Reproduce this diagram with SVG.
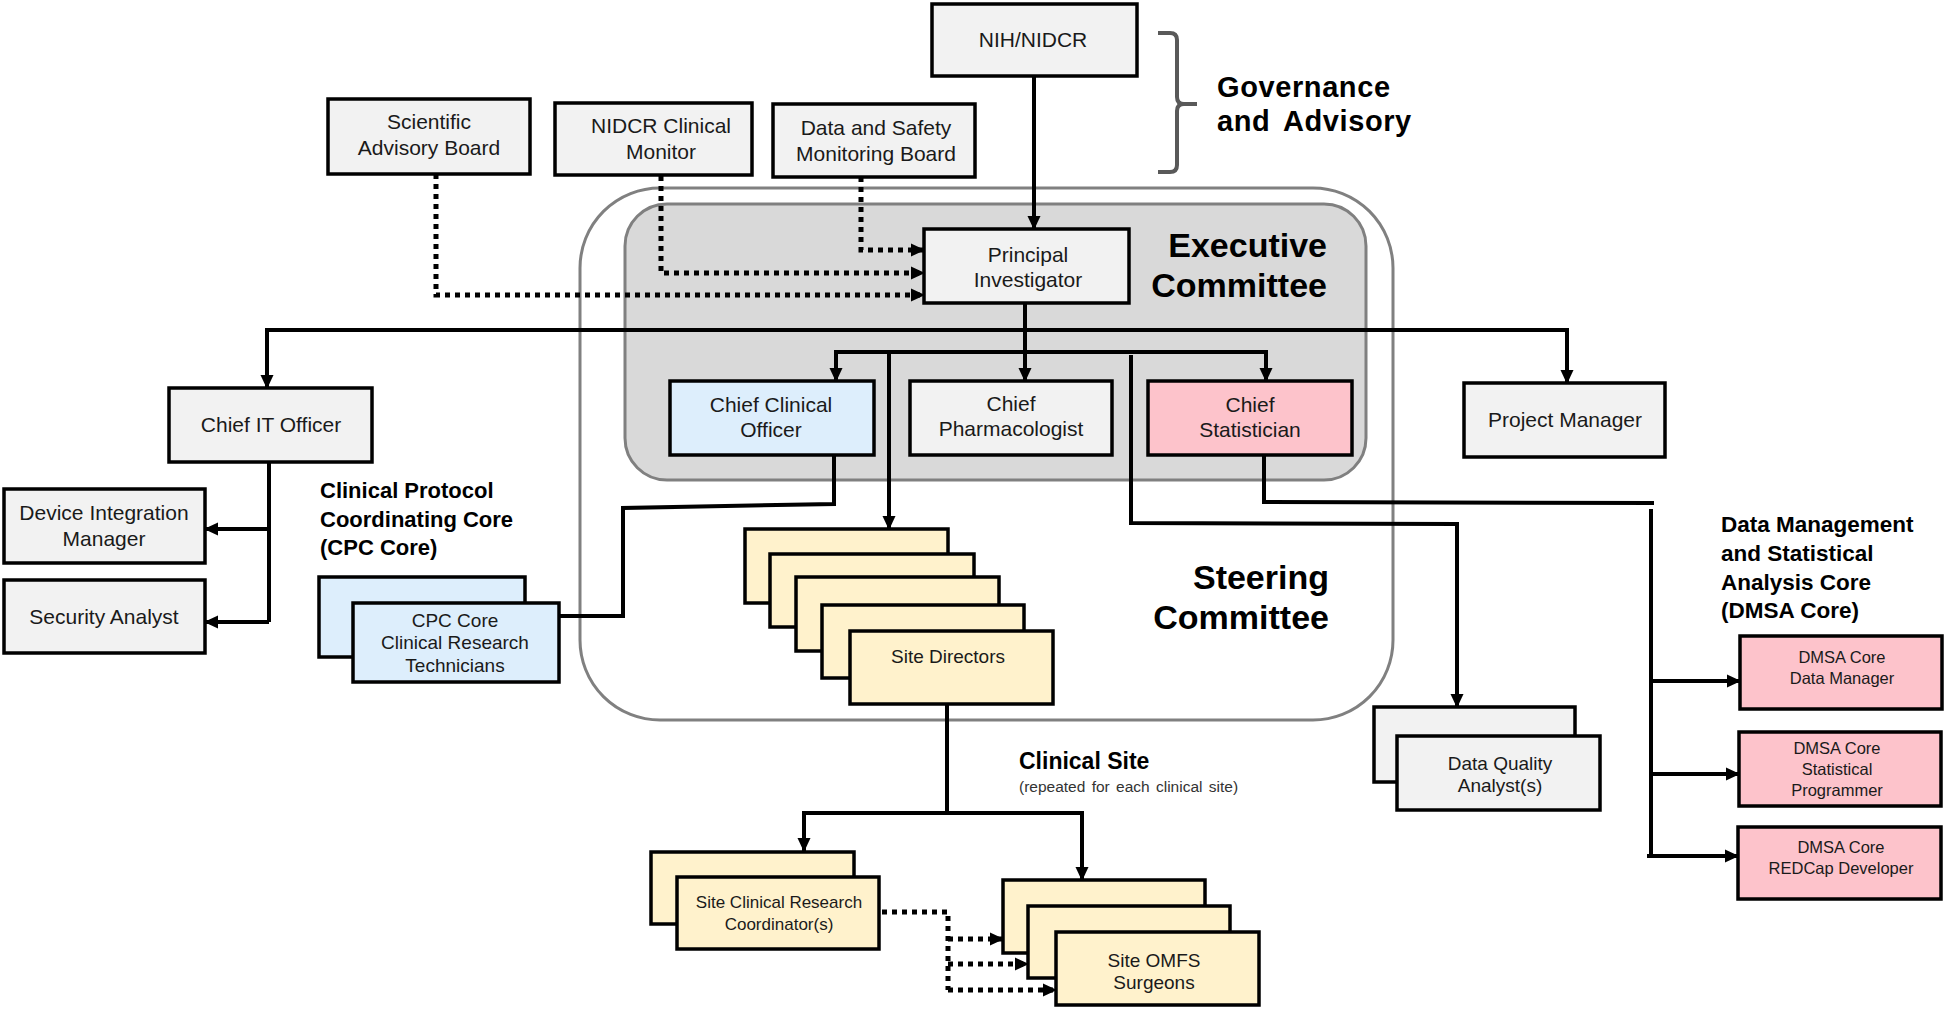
<svg xmlns="http://www.w3.org/2000/svg" width="1946" height="1010" viewBox="0 0 1946 1010">
<style>
.bx{stroke:#000;stroke-width:3.5}
.g{fill:#f2f2f2}.b{fill:#ddeefc}.p{fill:#fdc3cb}.y{fill:#fff2cc}
.t{font-family:"Liberation Sans",Arial,sans-serif;font-size:21px;fill:#1a1a1a;text-anchor:middle}
.s19{font-size:19px}.s17{font-size:17px}.s16{font-size:16.5px}
.lb{font-family:"Liberation Sans",Arial,sans-serif;font-weight:bold;fill:#000}
.c{fill:none;stroke:#000;stroke-width:4}
.d{fill:none;stroke:#000;stroke-width:5;stroke-dasharray:5 5}
</style>
<defs>
<marker id="ah" markerWidth="14" markerHeight="14" refX="13" refY="7" orient="auto" markerUnits="userSpaceOnUse"><path d="M0,0.5 L14,7 L0,13.5 z" fill="#000"/></marker>
</defs>
<rect width="1946" height="1010" fill="#fff"/>

<g id="steering-committee">
<rect x="580" y="188" width="813" height="532" rx="80" ry="80" fill="none" stroke="#808080" stroke-width="3"/>
<text class="lb" x="1329" y="589" font-size="34" text-anchor="end">Steering</text>
<text class="lb" x="1329" y="629" font-size="34" text-anchor="end">Committee</text>
</g>
<g id="executive-committee">
<rect x="625" y="204" width="741" height="276" rx="42" ry="42" fill="#d9d9d9" stroke="#808080" stroke-width="3"/>
<text class="lb" x="1327" y="257" font-size="34" text-anchor="end">Executive</text>
<text class="lb" x="1327" y="297" font-size="34" text-anchor="end">Committee</text>
</g>

<g id="governance-label">
<path d="M1158,33 L1170,33 Q1177,33 1177,40 L1177,97 Q1177,104 1184,104 L1197,104 M1184,104 Q1177,104 1177,111 L1177,165 Q1177,172 1170,172 L1158,172" fill="none" stroke="#595959" stroke-width="4"/>
<text class="lb" x="1217" y="97" font-size="29" letter-spacing="0.6">Governance</text>
<text class="lb" x="1217" y="131" font-size="29" letter-spacing="0.6" word-spacing="5">and Advisory</text>
</g>

<g id="connectors">
<path class="c" d="M1034,76 L1034,229" marker-end="url(#ah)"/>
<path class="d" d="M861,177 L861,250 L924,250" marker-end="url(#ah)"/>
<path class="d" d="M661,176 L661,273 L924,273" marker-end="url(#ah)"/>
<path class="d" d="M436,174 L436,295 L924,295" marker-end="url(#ah)"/>
<path class="c" d="M1025,303 L1025,381" marker-end="url(#ah)"/>
<path class="c" d="M1025,330 L267,330 L267,388" marker-end="url(#ah)"/>
<path class="c" d="M1025,330 L1567,330 L1567,383" marker-end="url(#ah)"/>
<path class="c" d="M1025,352 L836,352 L836,381" marker-end="url(#ah)"/>
<path class="c" d="M1025,352 L1266,352 L1266,381" marker-end="url(#ah)"/>
<path class="c" d="M889,352 L889,529" marker-end="url(#ah)"/>
<path class="c" d="M1131,355 L1131,523 L1457,524 L1457,707" marker-end="url(#ah)"/>
<path class="c" d="M834,455 L834,504 L623,508 L623,616 L559,616"/>
<path class="c" d="M1264,455 L1264,502 L1654,503"/>
<path class="c" d="M1651,509 L1651,856"/>
<path class="c" d="M1651,681 L1740,681" marker-end="url(#ah)"/>
<path class="c" d="M1651,774 L1739,774" marker-end="url(#ah)"/>
<path class="c" d="M1647,856 L1738,856" marker-end="url(#ah)"/>
<path class="c" d="M269,462 L269,622"/>
<path class="c" d="M269,529 L205,529" marker-end="url(#ah)"/>
<path class="c" d="M269,622 L205,622" marker-end="url(#ah)"/>
<path class="c" d="M947,704 L947,813"/>
<path class="c" d="M947,813 L804,813 L804,851" marker-end="url(#ah)"/>
<path class="c" d="M947,813 L1082,813 L1082,880" marker-end="url(#ah)"/>
<path class="d" d="M882,912 L948,912 L948,990"/>
<path class="d" d="M948,939 L1003,939" marker-end="url(#ah)"/>
<path class="d" d="M948,964 L1028,964" marker-end="url(#ah)"/>
<path class="d" d="M948,990 L1056,990" marker-end="url(#ah)"/>
</g>

<g id="nih-nidcr">
<rect class="bx g" x="932" y="4" width="205" height="72"/>
<text class="t" x="1033" y="47">NIH/NIDCR</text>
</g>
<g id="scientific-advisory-board">
<rect class="bx g" x="328" y="99" width="202" height="75"/>
<text class="t" x="429" y="129">Scientific</text>
<text class="t" x="429" y="155">Advisory Board</text>
</g>
<g id="nidcr-clinical-monitor">
<rect class="bx g" x="555" y="103" width="197" height="72"/>
<text class="t" x="661" y="133">NIDCR Clinical</text>
<text class="t" x="661" y="159">Monitor</text>
</g>
<g id="dsmb">
<rect class="bx g" x="773" y="104" width="202" height="73"/>
<text class="t" x="876" y="135">Data and Safety</text>
<text class="t" x="876" y="161">Monitoring Board</text>
</g>
<g id="principal-investigator">
<rect class="bx g" x="924" y="229" width="205" height="74"/>
<text class="t" x="1028" y="262">Principal</text>
<text class="t" x="1028" y="287">Investigator</text>
</g>
<g id="chief-it-officer">
<rect class="bx g" x="169" y="388" width="203" height="74"/>
<text class="t" x="271" y="432">Chief IT Officer</text>
</g>
<g id="project-manager">
<rect class="bx g" x="1464" y="383" width="201" height="74"/>
<text class="t" x="1565" y="427">Project Manager</text>
</g>
<g id="chief-clinical-officer">
<rect class="bx b" x="670" y="381" width="204" height="74"/>
<text class="t" x="771" y="412">Chief Clinical</text>
<text class="t" x="771" y="437">Officer</text>
</g>
<g id="chief-pharmacologist">
<rect class="bx g" x="910" y="381" width="202" height="74"/>
<text class="t" x="1011" y="411">Chief</text>
<text class="t" x="1011" y="436">Pharmacologist</text>
</g>
<g id="chief-statistician">
<rect class="bx p" x="1148" y="381" width="204" height="74"/>
<text class="t" x="1250" y="412">Chief</text>
<text class="t" x="1250" y="437">Statistician</text>
</g>
<g id="device-integration-manager">
<rect class="bx g" x="4" y="489" width="201" height="74"/>
<text class="t" x="104" y="520">Device Integration</text>
<text class="t" x="104" y="546">Manager</text>
</g>
<g id="security-analyst">
<rect class="bx g" x="4" y="580" width="201" height="73"/>
<text class="t" x="104" y="624">Security Analyst</text>
</g>

<g id="cpc-core-label">
<text class="lb" x="320" y="498" font-size="22">Clinical Protocol</text>
<text class="lb" x="320" y="527" font-size="22">Coordinating Core</text>
<text class="lb" x="320" y="555" font-size="22">(CPC Core)</text>
</g>
<g id="cpc-core-technicians">
<rect class="bx b" x="319" y="577" width="206" height="80"/>
<rect class="bx b" x="353" y="603" width="206" height="79"/>
<text class="t s19" x="455" y="627">CPC Core</text>
<text class="t s19" x="455" y="649">Clinical Research</text>
<text class="t s19" x="455" y="672">Technicians</text>
</g>

<g id="site-directors">
<rect class="bx y" x="745" y="529" width="203" height="74"/>
<rect class="bx y" x="770" y="554" width="204" height="73"/>
<rect class="bx y" x="796" y="577" width="203" height="74"/>
<rect class="bx y" x="822" y="605" width="202" height="73"/>
<rect class="bx y" x="850" y="631" width="203" height="73"/>
<text class="t s19" x="948" y="663" fill="#333">Site Directors</text>
</g>

<g id="data-quality-analysts">
<rect class="bx g" x="1374" y="707" width="201" height="75"/>
<rect class="bx g" x="1397" y="736" width="203" height="74"/>
<text class="t s19" x="1500" y="770">Data Quality</text>
<text class="t s19" x="1500" y="792">Analyst(s)</text>
</g>

<g id="dmsa-core-label">
<text class="lb" x="1721" y="532" font-size="22.5">Data Management</text>
<text class="lb" x="1721" y="561" font-size="22.5">and Statistical</text>
<text class="lb" x="1721" y="590" font-size="22.5">Analysis Core</text>
<text class="lb" x="1721" y="618" font-size="22.5">(DMSA Core)</text>
</g>
<g id="dmsa-data-manager">
<rect class="bx p" x="1740" y="636" width="202" height="73"/>
<text class="t s16" x="1842" y="663">DMSA Core</text>
<text class="t s16" x="1842" y="684">Data Manager</text>
</g>
<g id="dmsa-statistical-programmer">
<rect class="bx p" x="1739" y="732" width="202" height="74"/>
<text class="t s16" x="1837" y="754">DMSA Core</text>
<text class="t s16" x="1837" y="775">Statistical</text>
<text class="t s16" x="1837" y="796">Programmer</text>
</g>
<g id="dmsa-redcap-developer">
<rect class="bx p" x="1738" y="827" width="203" height="72"/>
<text class="t s16" x="1841" y="853">DMSA Core</text>
<text class="t s16" x="1841" y="874">REDCap Developer</text>
</g>

<g id="clinical-site-label">
<text class="lb" x="1019" y="769" font-size="23">Clinical Site</text>
<text x="1019" y="792" font-family="Liberation Sans, Arial, sans-serif" font-size="15.5" fill="#333" word-spacing="2">(repeated for each clinical site)</text>
</g>
<g id="site-clinical-research-coordinators">
<rect class="bx y" x="651" y="852" width="203" height="72"/>
<rect class="bx y" x="677" y="877" width="202" height="72"/>
<text class="t s17" x="779" y="908" fill="#333">Site Clinical Research</text>
<text class="t s17" x="779" y="930" fill="#333">Coordinator(s)</text>
</g>
<g id="site-omfs-surgeons">
<rect class="bx y" x="1003" y="880" width="202" height="73"/>
<rect class="bx y" x="1028" y="906" width="202" height="72"/>
<rect class="bx y" x="1056" y="932" width="203" height="73"/>
<text class="t s19" x="1154" y="967" fill="#333">Site OMFS</text>
<text class="t s19" x="1154" y="989" fill="#333">Surgeons</text>
</g>
</svg>
